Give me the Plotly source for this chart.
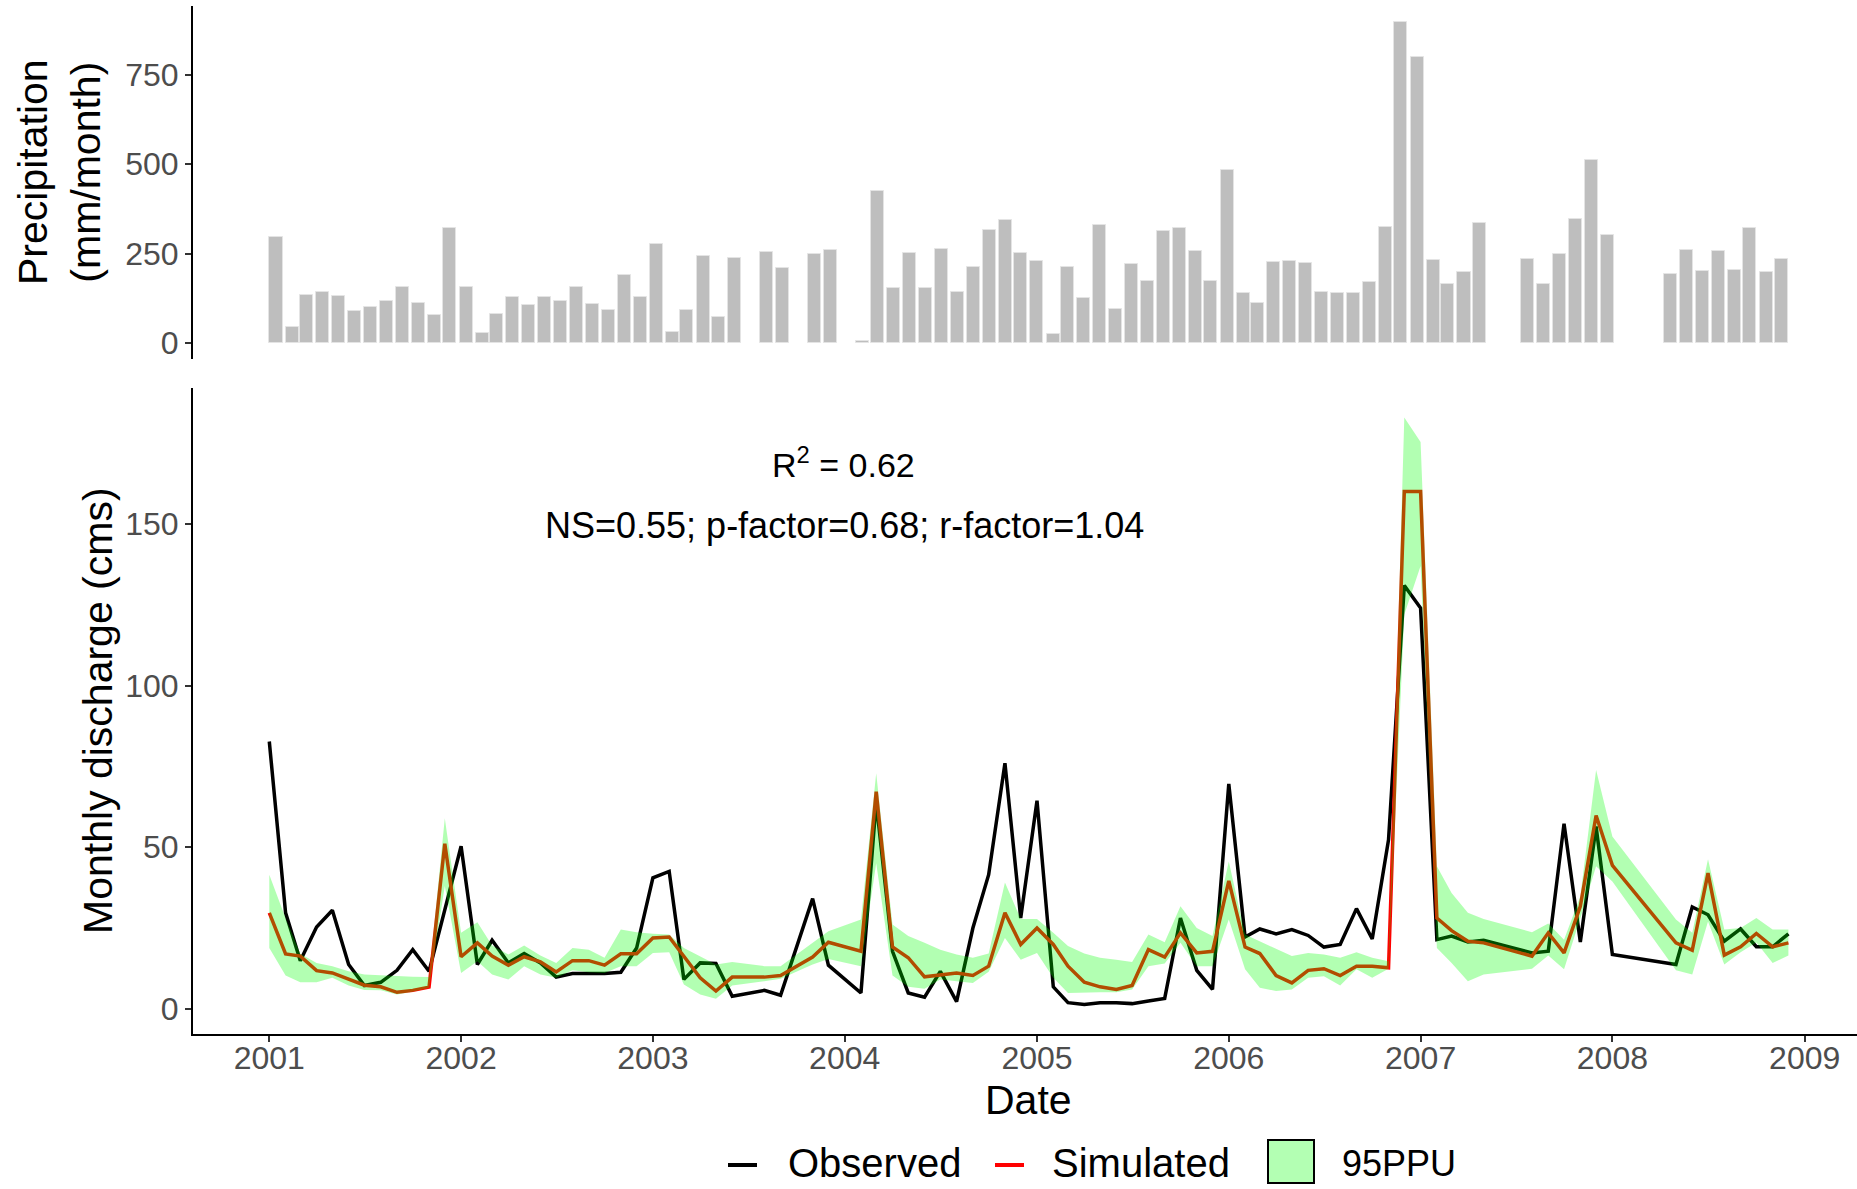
import plotly.graph_objects as go
import pandas as pd

# ---------------- data ----------------
years = [2001, 2002, 2003, 2004, 2005, 2006, 2007, 2008]
months = [f"{y}-{m:02d}-01" for y in years for m in range(1, 13)]

precip = [
    297, 46, 134, 142, 131, 91, 100, 117, 158, 112, 80, 322,
    156, 29, 81, 130, 106, 128, 118, 156, 110, 94, 191, 128,
    276, 31, 92, 243, 74, 238, None, 254, 209, None, 248, 261,
    None, 7, 426, 153, 253, 154, 264, 142, 213, 317, 345, 253,
    231, 25, 214, 126, 331, 96, 220, 174, 313, 321, 259, 175,
    484, 139, 113, 227, 229, 225, 144, 139, 140, 170, 325, 896,
    800, 232, 165, 198, 337, None, None, 236, 165, 248, 348, 511,
    302, None, None, None, 194, 261, 203, 259, 205, 322, 198, 236,
]

observed = [
    82.7, 29.7, 14.9, 25.3, 30.5, 13.7, 7.2, 8.2, 11.9, 18.3, 11.6, 31.0,
    50.3, 13.7, 21.2, 14.2, 17.1, 14.2, 9.8, 10.9, 10.9, 10.9, 11.3, 18.8,
    40.5, 42.5, 9.1, 14.2, 14.0, 3.9, None, 5.7, 4.2, None, 34.1, 13.5,
    None, 4.9, 64.0, 17.8, 4.9, 3.6, 11.6, 2.2, 25.0, 41.5, 76.0, 28.1,
    64.4, 6.8, 1.9, 1.3, 1.9, 1.9, 1.6, 2.4, 3.2, 28.1, 11.9, 6.0,
    69.6, 22.2, 24.7, 23.2, 24.5, 22.7, 19.1, 19.9, 31.0, 21.6, 52.3, 131.0,
    124.0, 21.4, 22.5, 20.7, 21.2, None, None, 17.3, 17.8, 57.3, 20.7, 56.4,
    16.8, None, None, None, 13.7, 31.5, 29.1, 20.9, 24.7, 19.2, 19.2, 23.2,
]

simulated = [
    29.7, 17.0, 16.3, 11.8, 11.1, 9.3, 7.3, 6.8, 5.1, 5.7, 6.7, 51.1,
    16.1, 20.4, 16.3, 13.5, 16.1, 14.5, 11.4, 14.9, 14.9, 13.5, 17.0, 17.0,
    21.9, 22.2, 16.3, 9.6, 5.5, 9.8, None, 9.8, 10.3, None, 16.0, 20.6,
    None, 17.8, 67.2, 19.1, 15.8, 9.9, 10.6, 11.1, 10.3, 13.2, 29.7, 19.9,
    25.0, 19.9, 13.2, 8.2, 6.8, 6.0, 7.2, 18.3, 16.0, 23.5, 17.3, 17.8,
    39.6, 19.1, 17.1, 10.3, 8.0, 11.9, 12.4, 10.3, 13.2, 13.2, 12.7, 160.1,
    160.1, 28.1, 24.2, 20.9, 20.4, None, None, 16.3, 23.5, 17.3, 31.7, 59.8,
    44.4, None, None, None, 20.4, 18.1, 42.0, 16.6, 19.2, 23.3, 19.2, 20.4,
]

ppu_lower = [
    18.8, 10.3, 8.2, 8.2, 9.6, 7.2, 5.8, 5.7, 4.4, 5.3, 6.5, 38.0,
    11.1, 14.7, 10.6, 9.1, 13.2, 10.6, 9.6, 11.9, 11.3, 11.1, 13.2, 13.2,
    17.3, 17.5, 7.5, 4.4, 3.1, 7.2, None, 8.5, 9.3, None, 13.7, 15.4,
    None, 13.2, 45.0, 10.3, 6.8, 6.2, 9.1, 8.5, 8.0, 11.5, 21.9, 15.2,
    17.3, 9.6, 4.9, 4.9, 5.1, 5.1, 6.0, 13.2, 14.0, 20.4, 13.2, 13.2,
    27.6, 12.2, 6.5, 5.5, 6.0, 9.6, 10.1, 7.2, 12.2, 9.6, 12.4, 122.0,
    137.0, 18.8, 14.2, 8.5, 10.6, None, None, 12.4, 16.5, 12.2, 28.0, 44.1,
    39.4, None, None, None, 11.9, 10.6, 27.0, 13.7, 17.5, 20.5, 14.2, 16.5,
]

ppu_upper = [
    41.5, 28.0, 17.0, 14.2, 13.2, 11.6, 10.6, 10.3, 10.1, 9.9, 9.8, 59.0,
    23.5, 26.8, 19.6, 16.8, 19.6, 16.5, 14.2, 18.8, 18.3, 15.8, 24.5, 23.7,
    23.2, 23.0, 18.8, 16.3, 13.7, 14.5, None, 13.2, 13.2, None, 20.4, 24.0,
    None, 27.6, 72.9, 26.1, 22.5, 20.4, 18.3, 16.8, 15.8, 17.1, 39.1, 27.8,
    27.8, 23.5, 19.4, 17.1, 15.8, 15.2, 14.5, 23.0, 20.6, 31.7, 25.0, 22.5,
    45.6, 23.0, 20.9, 18.8, 16.3, 17.3, 16.8, 15.8, 17.5, 15.8, 14.7, 183.0,
    175.4, 44.1, 35.8, 29.7, 27.8, None, None, 23.7, 26.4, 21.4, 34.8, 73.9,
    53.3, None, None, None, 27.6, 23.5, 46.3, 24.5, 25.0, 28.1, 24.5, 24.5,
]

year_ticks = [f"{y}-01-01" for y in range(2001, 2010)]
year_labels = [str(y) for y in range(2001, 2010)]

# ---------------- layout helpers (pixel geometry) ----------------
W, H = 1857, 1189
L, R, T, B = 193, 0, 6, 155
PW, PH = W - L - R, H - T - B


def px(x):
    return (x - L) / PW


def py(y):
    return (H - B - y) / PH


FONT = "Arial, 'Liberation Sans', sans-serif"
TICK_COLOR = "#4D4D4D"

df = pd.DataFrame({"date": pd.to_datetime(months), "obs": observed, "sim": simulated,
                   "lo": ppu_lower, "hi": ppu_upper, "p": precip})
dfl = df.dropna(subset=["sim"])

fig = go.Figure()

# top: precipitation bars
fig.add_trace(go.Bar(
    x=df["date"], y=df["p"], xaxis="x2", yaxis="y2",
    marker=dict(color="#BEBEBE", line=dict(color="#E4E4E4", width=1)),
    width=25 * 86400000, showlegend=False, name="Precipitation",
))

# bottom: observed and simulated lines (drawn first), ribbon on top
fig.add_trace(go.Scatter(
    x=dfl["date"], y=dfl["obs"], mode="lines", name="Observed",
    line=dict(color="black", width=3.5), showlegend=False,
))
fig.add_trace(go.Scatter(
    x=dfl["date"], y=dfl["sim"], mode="lines", name="Simulated",
    line=dict(color="#FF0000", width=3.5), showlegend=False,
))
band_x = list(dfl["date"]) + list(dfl["date"][::-1])
band_y = list(dfl["hi"]) + list(dfl["lo"][::-1])
fig.add_trace(go.Scatter(
    x=band_x, y=band_y, mode="lines", fill="toself",
    fillcolor="rgba(0,255,0,0.3)", line=dict(width=0), name="95PPU",
    showlegend=False, hoverinfo="skip",
))

# axis ranges
d0 = pd.Timestamp("2001-01-01")
d9 = pd.Timestamp("2009-01-01")
ppy = (1804.7 - 269.3) / 8.0  # px per year in bottom panel
bx0 = d0 - pd.Timedelta(days=(269.3 - L) / ppy * 365.25)
bx1 = d9 + pd.Timedelta(days=(W - R - 1804.7) / ppy * 365.25)

dl = pd.Timestamp("2008-12-01")
ppd = (1781.7 - 276.0) / (dl - d0).days  # px per day in top panel
tx0 = d0 - pd.Timedelta(days=(276.0 - L) / ppd)
tx1 = dl + pd.Timedelta(days=(W - R - 1781.7) / ppd)

axis_common = dict(showgrid=False, zeroline=False, showline=True, linecolor="black",
                   linewidth=2, ticks="outside", ticklen=6, tickwidth=2,
                   tickcolor="#333333", tickfont=dict(family=FONT, size=32, color=TICK_COLOR))

fig.update_layout(
    width=W, height=H,
    margin=dict(l=L, r=R, t=T, b=B, pad=0),
    paper_bgcolor="white", plot_bgcolor="white",
    font=dict(family=FONT, color="black"),
    showlegend=False,
    bargap=0,
    xaxis=dict(domain=[0, 1], anchor="y", type="date",
               range=[bx0, bx1], tickvals=year_ticks, ticktext=year_labels,
               ticklabelstandoff=-11, **axis_common),
    yaxis=dict(domain=[0, py(388)], anchor="x", range=[-7.8, 192.1],
               tickvals=[0, 50, 100, 150], **axis_common),
    xaxis2=dict(domain=[0, 1], anchor="y2", type="date", range=[tx0, tx1],
                visible=False, showgrid=False, zeroline=False),
    yaxis2=dict(domain=[py(359), py(6)], anchor="x2", range=[-44, 942],
                tickvals=[0, 250, 500, 750], **axis_common),
)

ann = []
ann.append(dict(text="Date", x=px(1028), y=py(1100), xref="paper", yref="paper",
                showarrow=False, font=dict(size=41, family=FONT, color="black"),
                xanchor="center", yanchor="middle"))
ann.append(dict(text="Monthly discharge (cms)", x=px(98), y=py(711), xref="paper",
                yref="paper", showarrow=False, textangle=-90,
                font=dict(size=41, family=FONT, color="black"),
                xanchor="center", yanchor="middle"))
ann.append(dict(text="Precipitation<br>(mm/month)", x=px(60), y=py(172), xref="paper",
                yref="paper", showarrow=False, textangle=-90,
                font=dict(size=41, family=FONT, color="black"),
                xanchor="center", yanchor="middle"))
ann.append(dict(text="R<sup>2</sup> = 0.62", x=px(843), y=py(462), xref="paper",
                yref="paper", showarrow=False,
                font=dict(size=34, family=FONT, color="black"),
                xanchor="center", yanchor="middle"))
ann.append(dict(text="NS=0.55; p-factor=0.68; r-factor=1.04", x=px(844), y=py(525),
                xref="paper", yref="paper", showarrow=False,
                font=dict(size=36, family=FONT, color="black"),
                xanchor="center", yanchor="middle"))

# manual legend
leg_y = 1163
legend_items = [("Observed", "black", 728, 786), ("Simulated", "#FF0000", 995, 1050)]
shapes = []
for label, col, kx, tx in legend_items:
    shapes.append(dict(type="line", xref="paper", yref="paper",
                       x0=px(kx), x1=px(kx + 29), y0=py(leg_y + 2), y1=py(leg_y + 2),
                       line=dict(color=col, width=4)))
    ann.append(dict(text=label, x=px(tx), y=py(leg_y), xref="paper", yref="paper",
                    showarrow=False, xanchor="left", yanchor="middle",
                    font=dict(size=40, family=FONT, color="black")))
shapes.append(dict(type="rect", xref="paper", yref="paper",
                   x0=px(1268), x1=px(1314), y0=py(1183), y1=py(1140),
                   fillcolor="#B3FFB3", line=dict(color="black", width=2)))
ann.append(dict(text="95PPU", x=px(1340), y=py(leg_y), xref="paper", yref="paper",
                showarrow=False, xanchor="left", yanchor="middle",
                font=dict(size=36, family=FONT, color="black")))

fig.update_layout(annotations=ann, shapes=shapes)

fig.write_html("out.html", config={"displayModeBar": False},
               post_script="document.body.style.margin='0px';")
